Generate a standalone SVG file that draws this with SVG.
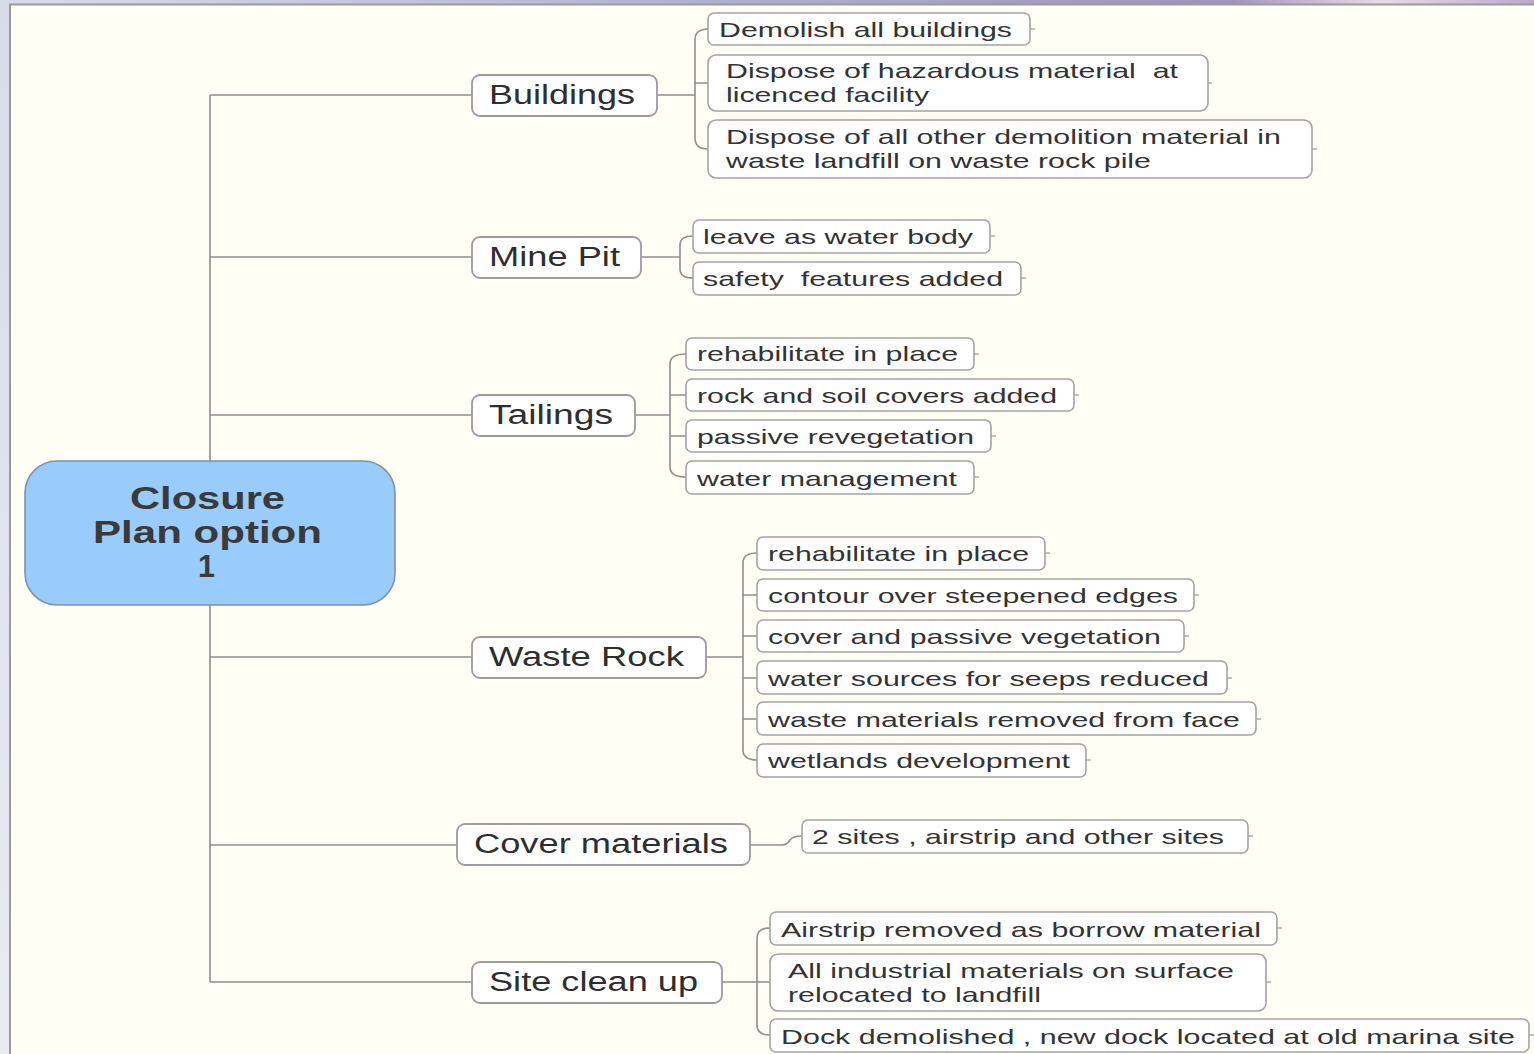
<svg xmlns="http://www.w3.org/2000/svg" width="1534" height="1054" viewBox="0 0 1534 1054">
<defs>
<linearGradient id="topbar" x1="0" y1="0" x2="1" y2="0">
<stop offset="0" stop-color="#d8dbea"/>
<stop offset="0.55" stop-color="#a9a9cc"/>
<stop offset="0.8" stop-color="#9f92bc"/>
<stop offset="0.9" stop-color="#e6dbe6"/>
<stop offset="1" stop-color="#b9a9cc"/>
</linearGradient>
<linearGradient id="side" x1="0" y1="0" x2="0" y2="1">
<stop offset="0" stop-color="#d9dbea"/>
<stop offset="1" stop-color="#e9eaf3"/>
</linearGradient>
</defs>
<style>
.bg{fill:#fffff6}
.edge{fill:none;stroke:#9a9a9a;stroke-width:2}
.conn{fill:none;stroke:#8f8f8f;stroke-width:1.6}
.leaf{fill:#ffffff;stroke:#a3a3a3;stroke-width:1.6}
.branch{fill:#ffffff;stroke:#9c9c9c;stroke-width:1.8}
.root{fill:#99ccfb;stroke:#7f93a8;stroke-width:1.6}
.tick{fill:none;stroke:#a0a0a0;stroke-width:1.3}
text{white-space:pre}
.lt{font-family:"Liberation Sans",Arial,sans-serif;font-size:21px;fill:#333333}
.bt{font-family:"Liberation Sans",Arial,sans-serif;font-size:27px;fill:#2e2e2e}
.rt{font-family:"Liberation Sans",Arial,sans-serif;font-size:31px;font-weight:bold;fill:#3a3a3a}
</style>
<rect x="0" y="0" width="1534" height="1054" fill="url(#side)"/>
<rect x="0" y="0" width="1534" height="5" fill="url(#topbar)"/>
<rect class="bg" x="10" y="4" width="1524" height="1050"/>
<path class="edge" d="M10,1054 L10,4.5 L1534,4.5"/>

<g id="connectors">
<path class="conn" d="M210,95 L210,982"/>
<path class="conn" d="M210,95 L472,95 M210,257 L472,257 M210,415 L472,415 M210,657 L472,657 M210,845 L457,845 M210,982 L472,982"/>
<path class="conn" d="M657,95 L695,95 M708,29 Q695,29 695,40 L695,138 Q695,149 708,149 M695,83 L708,83"/>
<path class="conn" d="M641,257 L680,257 M693,236 Q680,236 680,245 L680,269 Q680,278 693,278"/>
<path class="conn" d="M635,415 L670,415 M686,354 Q670,354 670,364 L670,467 Q670,477 686,477 M670,395 L686,395 M670,436 L686,436"/>
<path class="conn" d="M706,657 L743,657 M757,553 Q743,553 743,563 L743,750 Q743,760 757,760 M743,595 L757,595 M743,636 L757,636 M743,678 L757,678 M743,719 L757,719"/>
<path class="conn" d="M750,845 L782,845 Q787,845 790,840 Q793,836 802,836"/>
<path class="conn" d="M722,982 L757,982 M770,928 Q757,928 757,938 L757,1025 Q757,1035 770,1035 M757,982 L770,982"/>
</g>

<g id="root">
<rect class="root" x="25" y="461" width="370" height="144" rx="32"/>
<text class="rt" x="130" y="509" textLength="155" lengthAdjust="spacingAndGlyphs">Closure</text>
<text class="rt" x="93" y="543" textLength="229" lengthAdjust="spacingAndGlyphs">Plan option</text>
<text class="rt" x="198" y="577" textLength="17" lengthAdjust="spacingAndGlyphs">1</text>
</g>

<g id="buildings">
<rect class="branch" x="472" y="75" width="185" height="41" rx="8"/>
<text class="bt" x="489" y="104" textLength="146" lengthAdjust="spacingAndGlyphs">Buildings</text>
</g>
<g id="minepit">
<rect class="branch" x="472" y="237" width="169" height="41" rx="8"/>
<text class="bt" x="489" y="266" textLength="131" lengthAdjust="spacingAndGlyphs">Mine Pit</text>
</g>
<g id="tailings">
<rect class="branch" x="472" y="395" width="163" height="41" rx="8"/>
<text class="bt" x="489" y="424" textLength="124" lengthAdjust="spacingAndGlyphs">Tailings</text>
</g>
<g id="wasterock">
<rect class="branch" x="472" y="637" width="234" height="41" rx="8"/>
<text class="bt" x="489" y="666" textLength="195" lengthAdjust="spacingAndGlyphs">Waste Rock</text>
</g>
<g id="covermaterials">
<rect class="branch" x="457" y="824" width="293" height="41" rx="8"/>
<text class="bt" x="474" y="853" textLength="254" lengthAdjust="spacingAndGlyphs">Cover materials</text>
</g>
<g id="sitecleanup">
<rect class="branch" x="472" y="962" width="250" height="41" rx="8"/>
<text class="bt" x="489" y="991" textLength="209" lengthAdjust="spacingAndGlyphs">Site clean up</text>
</g>

<g id="b1">
<rect class="leaf" x="708" y="13" width="322" height="32" rx="6"/>
<path class="tick" d="M1030,29 L1035,29"/>
<text class="lt" x="719" y="37" textLength="293" lengthAdjust="spacingAndGlyphs">Demolish all buildings</text>
</g>
<g id="b2">
<rect class="leaf" x="708" y="55" width="500" height="56" rx="8"/>
<path class="tick" d="M1208,83 L1212,83"/>
<text class="lt" x="726" y="78" textLength="452" lengthAdjust="spacingAndGlyphs" xml:space="preserve">Dispose of hazardous material  at</text>
<text class="lt" x="726" y="102" textLength="203" lengthAdjust="spacingAndGlyphs">licenced facility</text>
</g>
<g id="b3">
<rect class="leaf" x="708" y="120" width="604" height="58" rx="8"/>
<path class="tick" d="M1312,149 L1317,149"/>
<text class="lt" x="726" y="144" textLength="555" lengthAdjust="spacingAndGlyphs">Dispose of all other demolition material in</text>
<text class="lt" x="726" y="168" textLength="425" lengthAdjust="spacingAndGlyphs">waste landfill on waste rock pile</text>
</g>

<g id="m1">
<rect class="leaf" x="693" y="220" width="297" height="33" rx="6"/>
<path class="tick" d="M990,236 L995,236"/>
<text class="lt" x="703" y="244" textLength="270" lengthAdjust="spacingAndGlyphs">leave as water body</text>
</g>
<g id="m2">
<rect class="leaf" x="693" y="262" width="328" height="33" rx="6"/>
<path class="tick" d="M1021,278 L1026,278"/>
<text class="lt" x="703" y="286" textLength="300" lengthAdjust="spacingAndGlyphs" xml:space="preserve">safety  features added</text>
</g>

<g id="t1">
<rect class="leaf" x="686" y="338" width="288" height="32" rx="6"/>
<path class="tick" d="M974,354 L979,354"/>
<text class="lt" x="697" y="361" textLength="261" lengthAdjust="spacingAndGlyphs">rehabilitate in place</text>
</g>
<g id="t2">
<rect class="leaf" x="686" y="379" width="388" height="32" rx="6"/>
<path class="tick" d="M1074,395 L1079,395"/>
<text class="lt" x="697" y="403" textLength="360" lengthAdjust="spacingAndGlyphs">rock and soil covers added</text>
</g>
<g id="t3">
<rect class="leaf" x="686" y="420" width="305" height="32" rx="6"/>
<path class="tick" d="M991,436 L996,436"/>
<text class="lt" x="697" y="444" textLength="277" lengthAdjust="spacingAndGlyphs">passive revegetation</text>
</g>
<g id="t4">
<rect class="leaf" x="686" y="461" width="288" height="33" rx="6"/>
<path class="tick" d="M974,477 L979,477"/>
<text class="lt" x="697" y="486" textLength="260" lengthAdjust="spacingAndGlyphs">water management</text>
</g>

<g id="w1">
<rect class="leaf" x="757" y="537" width="288" height="33" rx="6"/>
<path class="tick" d="M1045,553 L1050,553"/>
<text class="lt" x="768" y="561" textLength="261" lengthAdjust="spacingAndGlyphs">rehabilitate in place</text>
</g>
<g id="w2">
<rect class="leaf" x="757" y="579" width="437" height="32" rx="6"/>
<path class="tick" d="M1194,595 L1199,595"/>
<text class="lt" x="768" y="603" textLength="410" lengthAdjust="spacingAndGlyphs">contour over steepened edges</text>
</g>
<g id="w3">
<rect class="leaf" x="757" y="620" width="427" height="32" rx="6"/>
<path class="tick" d="M1184,636 L1189,636"/>
<text class="lt" x="768" y="644" textLength="393" lengthAdjust="spacingAndGlyphs">cover and passive vegetation</text>
</g>
<g id="w4">
<rect class="leaf" x="757" y="661" width="470" height="33" rx="6"/>
<path class="tick" d="M1227,678 L1232,678"/>
<text class="lt" x="768" y="686" textLength="441" lengthAdjust="spacingAndGlyphs">water sources for seeps reduced</text>
</g>
<g id="w5">
<rect class="leaf" x="757" y="702" width="499" height="33" rx="6"/>
<path class="tick" d="M1256,719 L1261,719"/>
<text class="lt" x="768" y="727" textLength="472" lengthAdjust="spacingAndGlyphs">waste materials removed from face</text>
</g>
<g id="w6">
<rect class="leaf" x="757" y="744" width="329" height="33" rx="6"/>
<path class="tick" d="M1086,760 L1091,760"/>
<text class="lt" x="768" y="768" textLength="302" lengthAdjust="spacingAndGlyphs">wetlands development</text>
</g>

<g id="c1">
<rect class="leaf" x="802" y="820" width="446" height="33" rx="6"/>
<path class="tick" d="M1248,836 L1253,836"/>
<text class="lt" x="812" y="844" textLength="412" lengthAdjust="spacingAndGlyphs">2 sites , airstrip and other sites</text>
</g>

<g id="s1">
<rect class="leaf" x="770" y="912" width="507" height="33" rx="6"/>
<path class="tick" d="M1277,928 L1282,928"/>
<text class="lt" x="781" y="937" textLength="480" lengthAdjust="spacingAndGlyphs">Airstrip removed as borrow material</text>
</g>
<g id="s2">
<rect class="leaf" x="770" y="954" width="496" height="57" rx="8"/>
<path class="tick" d="M1266,982 L1271,982"/>
<text class="lt" x="788" y="978" textLength="446" lengthAdjust="spacingAndGlyphs">All industrial materials on surface</text>
<text class="lt" x="788" y="1002" textLength="253" lengthAdjust="spacingAndGlyphs">relocated to landfill</text>
</g>
<g id="s3">
<rect class="leaf" x="770" y="1019" width="759" height="33" rx="6"/>
<path class="tick" d="M1529,1035 L1534,1035"/>
<text class="lt" x="781" y="1044" textLength="734" lengthAdjust="spacingAndGlyphs">Dock demolished , new dock located at old marina site</text>
</g>
</svg>
